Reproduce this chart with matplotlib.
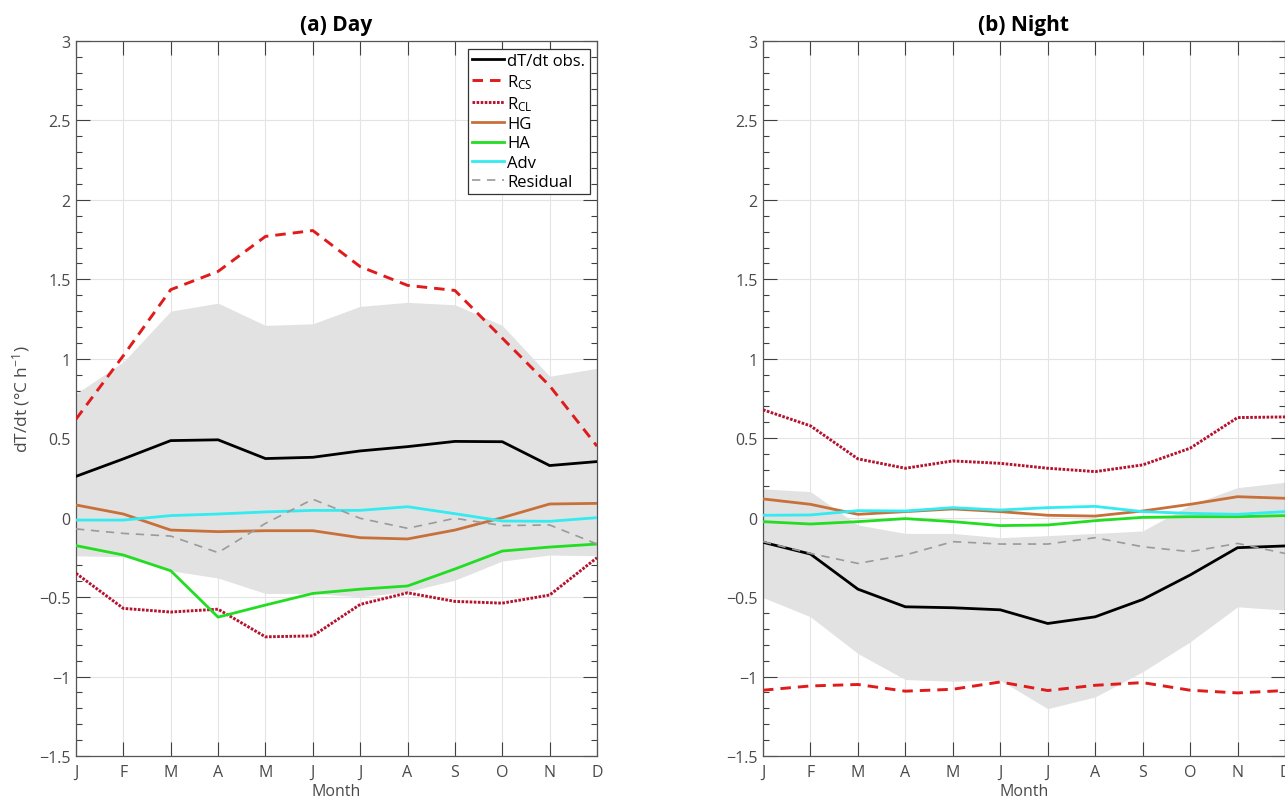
import matplotlib
matplotlib.use("Agg")
import matplotlib.pyplot as plt
import numpy as np
from matplotlib.ticker import MultipleLocator

months = ["J", "F", "M", "A", "M", "J", "J", "A", "S", "O", "N", "D"]

# ---- (a) Day ----
day_obs = [0.26, 0.37, 0.485, 0.49, 0.372, 0.38, 0.42, 0.447, 0.48, 0.478, 0.328, 0.353]
day_rcs = [0.62, 1.02, 1.435, 1.55, 1.77, 1.807, 1.58, 1.462, 1.43, 1.13, 0.83, 0.45]
day_rcl = [-0.35, -0.571, -0.594, -0.576, -0.75, -0.744, -0.546, -0.473, -0.527, -0.538, -0.487, -0.252]
day_hg = [0.08, 0.023, -0.078, -0.088, -0.082, -0.082, -0.126, -0.134, -0.078, 0.0, 0.086, 0.09]
day_ha = [-0.176, -0.235, -0.334, -0.626, -0.55, -0.477, -0.45, -0.43, -0.323, -0.21, -0.185, -0.166]
day_adv = [-0.015, -0.015, 0.013, 0.023, 0.036, 0.046, 0.046, 0.069, 0.025, -0.021, -0.023, 0.0]
day_res = [-0.071, -0.099, -0.116, -0.22, -0.036, 0.116, -0.004, -0.067, -0.004, -0.05, -0.046, -0.166]
day_band_hi = [0.78, 0.98, 1.30, 1.35, 1.21, 1.22, 1.33, 1.355, 1.34, 1.21, 0.89, 0.94]
day_band_lo = [-0.24, -0.246, -0.334, -0.38, -0.477, -0.477, -0.498, -0.466, -0.393, -0.273, -0.235, -0.24]

# ---- (b) Night ----
night_obs = [-0.155, -0.229, -0.45, -0.561, -0.567, -0.58, -0.666, -0.624, -0.515, -0.361, -0.189, -0.178]
night_rcs = [-1.086, -1.059, -1.05, -1.092, -1.08, -1.034, -1.088, -1.055, -1.038, -1.086, -1.103, -1.088]
night_rcl = [0.679, 0.578, 0.37, 0.311, 0.357, 0.342, 0.311, 0.29, 0.332, 0.437, 0.63, 0.634]
night_hg = [0.118, 0.084, 0.021, 0.038, 0.055, 0.038, 0.015, 0.01, 0.042, 0.084, 0.132, 0.122]
night_ha = [-0.025, -0.04, -0.025, -0.006, -0.025, -0.05, -0.046, -0.019, 0.002, 0.006, 0.006, 0.013]
night_adv = [0.015, 0.017, 0.044, 0.042, 0.063, 0.048, 0.063, 0.071, 0.038, 0.027, 0.021, 0.038]
night_res = [-0.151, -0.225, -0.288, -0.235, -0.151, -0.166, -0.166, -0.126, -0.183, -0.214, -0.162, -0.225]
night_band_hi = [0.181, 0.164, -0.046, -0.099, -0.099, -0.126, -0.113, -0.099, -0.084, 0.08, 0.189, 0.223]
night_band_lo = [-0.502, -0.624, -0.855, -1.019, -1.029, -1.023, -1.202, -1.128, -0.97, -0.782, -0.561, -0.582]

labels = ["dT/dt obs.", r"R$_{\mathregular{CS}}$", r"R$_{\mathregular{CL}}$", "HG", "HA", "Adv", "Residual"]
ytick_vals = [-1.5, -1, -0.5, 0, 0.5, 1, 1.5, 2, 2.5, 3]
ytick_text = ['\u22121.5', '\u22121', '\u22120.5', '0', '0.5', '1', '1.5', '2', '2.5', '3']

plt.rcParams['font.family'] = ['Open Sans', 'DejaVu Sans']
plt.rcParams['mathtext.fontset'] = 'custom'
plt.rcParams['mathtext.rm'] = 'Open Sans'
plt.rcParams['mathtext.it'] = 'Open Sans:italic'

AX_COL = '#404040'
TXT_COL = '#4a4a4a'

fig = plt.figure(figsize=(12.85, 8.03), dpi=100)
W, H = 1285.0, 803.0
ax1 = fig.add_axes([76 / W, (H - 757) / H, 521 / W, 715 / H])
ax2 = fig.add_axes([763 / W, (H - 757) / H, 522 / W, 715 / H])

x = np.arange(len(months))


def draw(ax, obs, rcs, rcl, hg, ha, adv, res, hi, lo, title):
    ax.fill_between(x, lo, hi, color='#e2e2e2', lw=0, zorder=1)
    h = []
    h += ax.plot(x, obs, color='black', lw=2.0, zorder=3)
    h += ax.plot(x, rcs, color='#e01b1b', lw=2.1, ls=(0, (3.6, 2.4)), zorder=3)
    h += ax.plot(x, rcl, color='#b5122e', lw=2.1, ls=(0, (0.9, 0.5)), zorder=3)
    h += ax.plot(x, hg, color='#c8703a', lw=2.0, zorder=3)
    h += ax.plot(x, ha, color='#22dd22', lw=2.0, zorder=3)
    h += ax.plot(x, adv, color='#33ebf0', lw=2.0, zorder=3)
    h += ax.plot(x, res, color='#9a9a9a', lw=1.2, ls=(0, (5, 4)), zorder=3)
    ax.set_xlim(0, 11)
    ax.set_ylim(-1.5, 3)
    ax.set_xticks(x)
    ax.set_xticklabels(months)
    ax.yaxis.set_minor_locator(MultipleLocator(0.1))
    ax.set_yticks(ytick_vals)
    ax.set_yticklabels(ytick_text)
    ax.grid(True, which='major', color='#e4e4e4', lw=0.8)
    ax.set_axisbelow(True)
    ax.tick_params(which='both', direction='in', top=True, right=True,
                   colors=AX_COL, labelsize=11.5, labelcolor=TXT_COL)
    ax.tick_params(which='major', length=10, width=0.8, pad=4)
    ax.tick_params(axis='x', which='major', pad=6)
    ax.tick_params(which='minor', length=4.5, width=0.8)
    ax.tick_params(axis='x', which='minor', bottom=False, top=False)
    for s in ax.spines.values():
        s.set_color('#555555')
        s.set_linewidth(0.9)
    ax.set_xlabel('Month', fontsize=11.5, color=TXT_COL, labelpad=2)
    ax.set_title(title, fontsize=15, fontweight='bold', pad=8)
    return h


h = draw(ax1, day_obs, day_rcs, day_rcl, day_hg, day_ha, day_adv, day_res,
         day_band_hi, day_band_lo, '(a) Day')
draw(ax2, night_obs, night_rcs, night_rcl, night_hg, night_ha, night_adv, night_res,
     night_band_hi, night_band_lo, '(b) Night')

ax1.set_ylabel('dT/dt (\u00b0C h$^{-1}$)', fontsize=12.5, color=TXT_COL, labelpad=5)

leg = ax1.legend(h, labels, loc='upper right', fontsize=12, frameon=True,
                 fancybox=False, edgecolor='#333333', handlelength=1.9,
                 handletextpad=0.2, labelspacing=0.2, borderpad=0.25,
                 borderaxespad=0.45)
leg.get_frame().set_linewidth(0.9)
leg.get_frame().set_alpha(1)

fig.savefig('out.png', dpi=100)
